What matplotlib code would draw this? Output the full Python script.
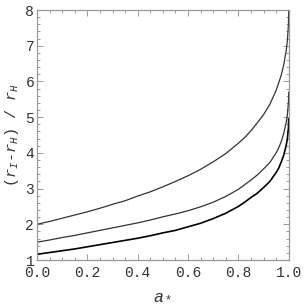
import numpy as np
import matplotlib
matplotlib.use("Agg")
import matplotlib.pyplot as plt
from matplotlib.ticker import MultipleLocator

# spin parameter and the three curves
spin = [0.0, 0.05, 0.1, 0.15, 0.2, 0.25, 0.3, 0.35, 0.4, 0.45, 0.5, 0.55,
        0.6, 0.65, 0.7, 0.75, 0.8, 0.825, 0.85, 0.875, 0.9, 0.925,
        0.95, 0.96, 0.97, 0.98, 0.99, 0.995, 0.999, 1.0]
upper = [2.00, 2.08, 2.17, 2.26, 2.35, 2.45, 2.56, 2.66, 2.79, 2.91, 3.05, 3.20,
         3.36, 3.54, 3.75, 3.98, 4.27, 4.43, 4.62, 4.84, 5.07, 5.36,
         5.75, 5.96, 6.17, 6.46, 6.86, 7.17, 7.61, 8.00]
middle = [1.50, 1.56, 1.63, 1.69, 1.76, 1.83, 1.90, 1.97, 2.04, 2.12, 2.21, 2.29,
          2.38, 2.49, 2.62, 2.78, 2.98, 3.11, 3.24, 3.38, 3.55, 3.73,
          4.00, 4.14, 4.31, 4.54, 4.85, 5.08, 5.42, 5.70]
lower = [1.16, 1.21, 1.26, 1.31, 1.37, 1.43, 1.49, 1.55, 1.61, 1.68, 1.76, 1.83,
         1.93, 2.03, 2.16, 2.31, 2.50, 2.62, 2.75, 2.87, 3.03, 3.20,
         3.45, 3.57, 3.74, 3.93, 4.21, 4.41, 4.70, 4.95]

x_ticks = [0.0, 0.2, 0.4, 0.6, 0.8, 1.0]
y_ticks = [1, 2, 3, 4, 5, 6, 7, 8]

plt.rcParams["mathtext.fontset"] = "custom"
plt.rcParams["mathtext.it"] = "Liberation Mono:italic"
plt.rcParams["mathtext.rm"] = "Liberation Mono"

fig = plt.figure(figsize=(3.04, 3.05), dpi=100)
ax = fig.add_axes([0.1217, 0.1475, 0.828, 0.8195])

ax.plot(spin, upper, color="#333333", lw=0.9)
ax.plot(spin, middle, color="#333333", lw=0.9)
ax.plot(spin, lower, color="black", lw=1.2)

ax.set_xlim(0, 1)
ax.set_ylim(1, 8)
ax.set_xticks(x_ticks)
ax.set_yticks(y_ticks)
ax.xaxis.set_minor_locator(MultipleLocator(0.05))
ax.yaxis.set_minor_locator(MultipleLocator(0.2))
ax.set_xticklabels(["%.1f" % v for v in x_ticks])
ax.set_yticklabels([str(v) for v in y_ticks])

frame = "#999999"
for s in ax.spines.values():
    s.set_color(frame)
    s.set_linewidth(0.9)
ax.tick_params(which="both", direction="in", top=True, right=True,
               color=frame, width=0.7)
ax.tick_params(which="major", length=4.5)
ax.tick_params(axis="x", which="major", pad=4.5)
ax.tick_params(axis="y", which="major", pad=2)
ax.tick_params(which="minor", length=2.5)
for lab in ax.get_xticklabels() + ax.get_yticklabels():
    lab.set_family("Liberation Mono")
    lab.set_fontsize(10.5)
    lab.set_color("#333333")

ax.set_xlabel("$a_*$", fontsize=12, color="#333333", labelpad=4)
ax.set_ylabel("($r_I$-$r_H$) / $r_H$", family="Liberation Mono",
              fontsize=11, color="#333333", labelpad=3)

fig.savefig("out.png", dpi=100)
